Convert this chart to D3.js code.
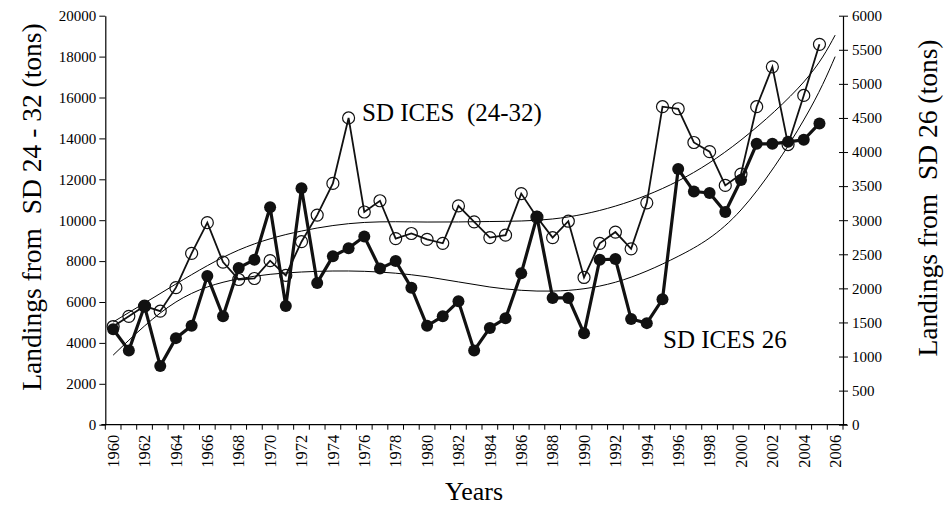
<!DOCTYPE html>
<html><head><meta charset="utf-8">
<script src="https://cdn.jsdelivr.net/npm/d3@7/dist/d3.min.js"></script>
<style>
body{margin:0;background:#fff}
text{font-family:"Liberation Serif","Times New Roman",serif;fill:#000;white-space:pre}
</style>
</head><body>
<svg id="chart" width="949" height="505"></svg>
<script>
// ---- data ----
const categories = [1960,1961,1962,1963,1964,1965,1966,1967,1968,1969,1970,1971,1972,1973,1974,1975,1976,1977,1978,1979,1980,1981,1982,1983,1984,1985,1986,1987,1988,1989,1990,1991,1992,1993,1994,1995,1996,1997,1998,1999,2000,2001,2002,2003,2004,2005,2006];
const dataYears = [1960,1961,1962,1963,1964,1965,1966,1967,1968,1969,1970,1971,1972,1973,1974,1975,1976,1977,1978,1979,1980,1981,1982,1983,1984,1985,1986,1987,1988,1989,1990,1991,1992,1993,1994,1995,1996,1997,1998,1999,2000,2001,2002,2003,2004,2005];
const sd2432 = [4800,5300,5800,5550,6700,8380,9880,7950,7100,7150,8020,7300,8950,10250,11800,15000,10400,10950,9100,9350,9060,8870,10700,9920,9150,9270,11300,10150,9150,9950,7200,8870,9420,8600,10850,15550,15450,13800,13350,11700,12250,15550,17500,13700,16100,18600];
const sd26 = [1400,1090,1740,860,1270,1450,2180,1590,2300,2420,3190,1740,3470,2080,2470,2590,2760,2290,2400,2010,1450,1590,1810,1090,1420,1560,2220,3050,1860,1860,1340,2420,2430,1550,1490,1840,3750,3420,3400,3120,3590,4120,4120,4150,4180,4420];
// trend curves
const trendYears = [1960,1964,1968,1972,1976,1980,1984,1988,1992,1996,2000,2004,2006];
const trend2432 = [5020,6880,8540,9470,9890,9910,9935,10060,10690,11920,13920,16760,19050];
const trend26 = [1020,1800,2140,2240,2250,2170,2020,1960,2090,2470,3150,4470,5400];
const leftTicks = [0,2000,4000,6000,8000,10000,12000,14000,16000,18000,20000];
const rightTicks = [0,500,1000,1500,2000,2500,3000,3500,4000,4500,5000,5500,6000];
const xLabelYears = [1960,1962,1964,1966,1968,1970,1972,1974,1976,1978,1980,1982,1984,1986,1988,1990,1992,1994,1996,1998,2000,2002,2004,2006];

// ---- layout ----
const L = 105.3, R = 843, T = 15.7, B = 424.7;
const svg = d3.select("#chart");
const x = d3.scaleBand().domain(categories).range([L, R]).padding(0);
const cx = d => x(d) + x.bandwidth() / 2;
const yL = d3.scaleLinear().domain([0, 20000]).range([B, T]);
const yR = d3.scaleLinear().domain([0, 6000]).range([B, T]);

// axes
const gL = svg.append("g").attr("transform", `translate(${L},0)`)
  .call(d3.axisLeft(yL).tickValues(leftTicks).tickSize(6).tickSizeOuter(0).tickPadding(3).tickFormat(d3.format("d")));
const gR = svg.append("g").attr("transform", `translate(${R},0)`)
  .call(d3.axisRight(yR).tickValues(rightTicks).tickSize(5).tickSizeOuter(0).tickPadding(4).tickFormat(d3.format("d")));
gR.selectAll(".tick").append("line").attr("x1", 0).attr("x2", -4).attr("stroke", "#000");
[gL, gR].forEach(g => {
  g.selectAll("text").style("font-size", "15px").style("font-family", '"Liberation Serif",serif');
  g.selectAll("line").attr("stroke", "#000").attr("stroke-width", 1);
  g.select(".domain").attr("stroke", "#000").attr("stroke-width", 1.2);
});

// x axis
svg.append("line").attr("x1", L - 4).attr("x2", R + 4).attr("y1", B).attr("y2", B).attr("stroke", "#000").attr("stroke-width", 1.2);
const bounds = categories.map(c => x(c)).concat([x.range()[1]]);
svg.append("g").selectAll("line").data(bounds).join("line")
  .attr("x1", d => d).attr("x2", d => d).attr("y1", B).attr("y2", B + 5).attr("stroke", "#000");
svg.append("g").selectAll("text").data(xLabelYears).join("text")
  .attr("transform", d => `translate(${cx(d)},${B + 10}) rotate(-90)`)
  .attr("text-anchor", "end").attr("dy", "0.35em").style("font-size", "16.5px")
  .text(d => d);

// titles
svg.append("text").attr("transform", `translate(31,207) rotate(-90)`).attr("text-anchor", "middle")
  .attr("dy", "0.35em").style("font-size", "27.5px").text("Landings from  SD 24 - 32 (tons)");
svg.append("text").attr("transform", `translate(927,198) rotate(-90)`).attr("text-anchor", "middle")
  .attr("dy", "0.35em").style("font-size", "27.5px").text("Landings from  SD 26 (tons)");
svg.append("text").attr("x", 474).attr("y", 500).attr("text-anchor", "middle").style("font-size", "26px").text("Years");

// trend curves
const tL = d3.line().x((d, i) => cx(trendYears[i]) ).y(d => yL(d)).curve(d3.curveNatural);
const tR = d3.line().x((d, i) => cx(trendYears[i]) ).y(d => yR(d)).curve(d3.curveNatural);
svg.append("path").attr("d", tL(trend2432)).attr("fill", "none").attr("stroke", "#000").attr("stroke-width", 1);
svg.append("path").attr("d", tR(trend26)).attr("fill", "none").attr("stroke", "#000").attr("stroke-width", 1);

// open series (left axis)
const lineL = d3.line().x((d, i) => cx(dataYears[i])).y(d => yL(d));
svg.append("path").attr("d", lineL(sd2432)).attr("fill", "none").attr("stroke", "#111").attr("stroke-width", 1.8);
svg.append("g").selectAll("circle").data(sd2432).join("circle")
  .attr("cx", (d, i) => cx(dataYears[i])).attr("cy", d => yL(d)).attr("r", 6)
  .attr("fill", "none").attr("stroke", "#111").attr("stroke-width", 1.2);

// filled series (right axis)
const lineR = d3.line().x((d, i) => cx(dataYears[i])).y(d => yR(d));
svg.append("path").attr("d", lineR(sd26)).attr("fill", "none").attr("stroke", "#111").attr("stroke-width", 3.2);
svg.append("g").selectAll("circle").data(sd26).join("circle")
  .attr("cx", (d, i) => cx(dataYears[i])).attr("cy", d => yR(d)).attr("r", 6)
  .attr("fill", "#111");

// annotations
svg.append("text").attr("x", 362).attr("y", 121).style("font-size", "25px").text("SD ICES  (24-32)");
svg.append("text").attr("x", 663).attr("y", 348).style("font-size", "25px").text("SD ICES 26");
</script>
</body></html>
